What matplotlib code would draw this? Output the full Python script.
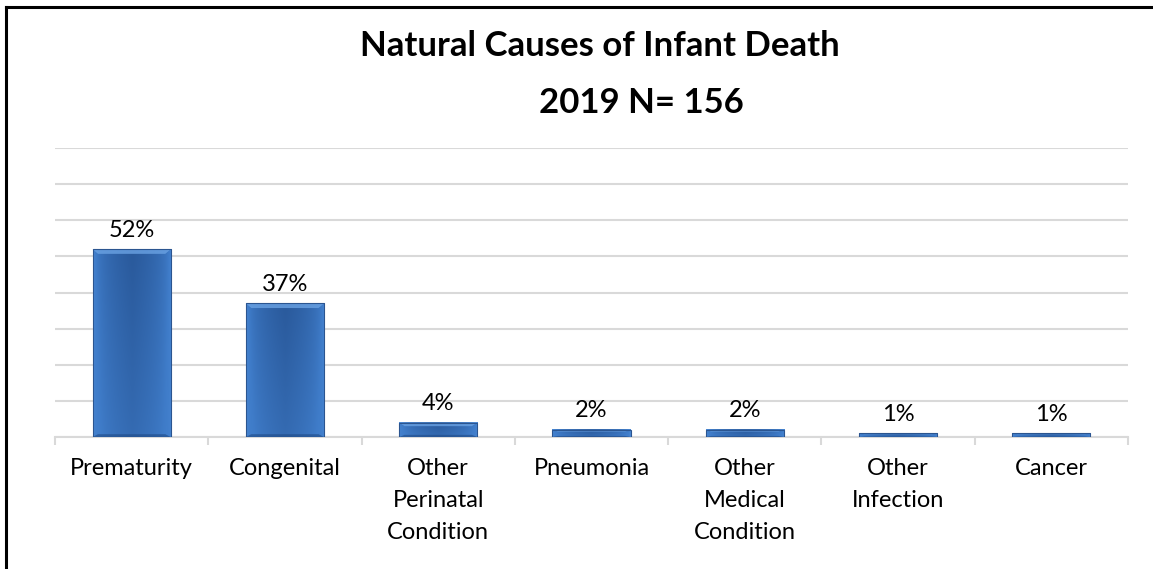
import numpy as np
import matplotlib.pyplot as plt
from matplotlib.colors import LinearSegmentedColormap
from matplotlib.lines import Line2D

# === Data ===
causes = ["Prematurity", "Congenital", "Other\nPerinatal\nCondition", "Pneumonia",
          "Other\nMedical\nCondition", "Other\nInfection", "Cancer"]
shares = [52, 37, 4, 2, 2, 1, 1]
value_labels = ["52%", "37%", "4%", "2%", "2%", "1%", "1%"]

plt.rcParams['font.family'] = ['Lato', 'DejaVu Sans']

fig = plt.figure(figsize=(11.53, 5.69), dpi=100)
ax = fig.add_axes([55 / 1153, 1 - 437 / 569, 1073 / 1153, 289 / 569])

x = np.arange(len(causes))
bars = ax.bar(x, shares, width=0.51, color="#3d78c4", edgecolor="none", zorder=2)

# gradient fill for a bevelled look
cmap = LinearSegmentedColormap.from_list("bar", ["#2a5a9c", "#3f7cc9", "#4a88d4", "#3f7cc9", "#2a5a9c"])
gx = np.linspace(0, 1, 60)
gy = np.linspace(0, 1, 60)
GX, GY = np.meshgrid(gx, gy)
grad = 0.5 + 0.5 * (np.minimum(GX, 1 - GX) * 2) ** 0.25 * (0.75 + 0.25 * GY)
for b in bars:
    bx, by, bw, bh = b.get_x(), b.get_y(), b.get_width(), b.get_height()
    ax.imshow(grad, cmap=cmap, vmin=0, vmax=1, origin="lower", aspect="auto",
              extent=(bx, bx + bw, by, by + bh), zorder=3, interpolation="bicubic")
    # lighter top band (bevel)
    top = min(bh * 0.25, 1.3)
    ax.fill([bx, bx + bw, bx + bw * 0.93, bx + bw * 0.07],
            [by + bh, by + bh, by + bh - top, by + bh - top],
            color="#6aa2e3", alpha=0.8, lw=0, zorder=4)
    # darker bottom band
    ax.fill([bx, bx + bw, bx + bw * 0.93, bx + bw * 0.07],
            [by, by, by + top * 0.6, by + top * 0.6],
            color="#1f4a85", alpha=0.6, lw=0, zorder=4)
    ax.add_patch(plt.Rectangle((bx, by), bw, bh, fill=False, ec="#2b5590", lw=0.8, zorder=5))

for xi, v, lab in zip(x, shares, value_labels):
    ax.annotate(lab, (xi, v), xytext=(0, 6), textcoords="offset points",
                ha="center", va="bottom", fontsize=17, color="#000000")

ax.set_xlim(-0.5, len(causes) - 0.5)
ax.set_ylim(0, 80)
ax.set_yticks(np.arange(0, 81, 10))
ax.set_yticklabels([])
ax.tick_params(axis="y", length=0)
ax.grid(axis="y", color="#d9d9d9", linewidth=1.5, zorder=0)
ax.set_axisbelow(True)

ax.set_xticks(x)
ax.set_xticklabels(causes, fontsize=17, linespacing=1.65, va="top")
ax.tick_params(axis="x", length=0, pad=15)
ax.set_xticks(np.arange(-0.5, len(causes), 1), minor=True)
ax.tick_params(axis="x", which="minor", length=6, width=1.5, color="#d9d9d9")

for s in ["top", "right", "left"]:
    ax.spines[s].set_visible(False)
ax.spines["bottom"].set_color("#d9d9d9")
ax.spines["bottom"].set_linewidth(1.5)

# title
fig.text(600 / 1153, 1 - 56 / 569, "Natural Causes of Infant Death", ha="center", va="baseline",
         fontsize=25, fontweight="bold")
fig.text(641 / 1153, 1 - 113 / 569, "2019 N= 156", ha="center", va="baseline",
         fontsize=25, fontweight="bold")

# frame lines (left and top only)
fig.add_artist(Line2D([6 / 1153, 6 / 1153], [0, 1 - 7 / 569], color="black", lw=2.2, transform=fig.transFigure))
fig.add_artist(Line2D([6 / 1153, 1], [1 - 7 / 569, 1 - 7 / 569], color="black", lw=2.2, transform=fig.transFigure))

fig.savefig("out.png", dpi=100)
